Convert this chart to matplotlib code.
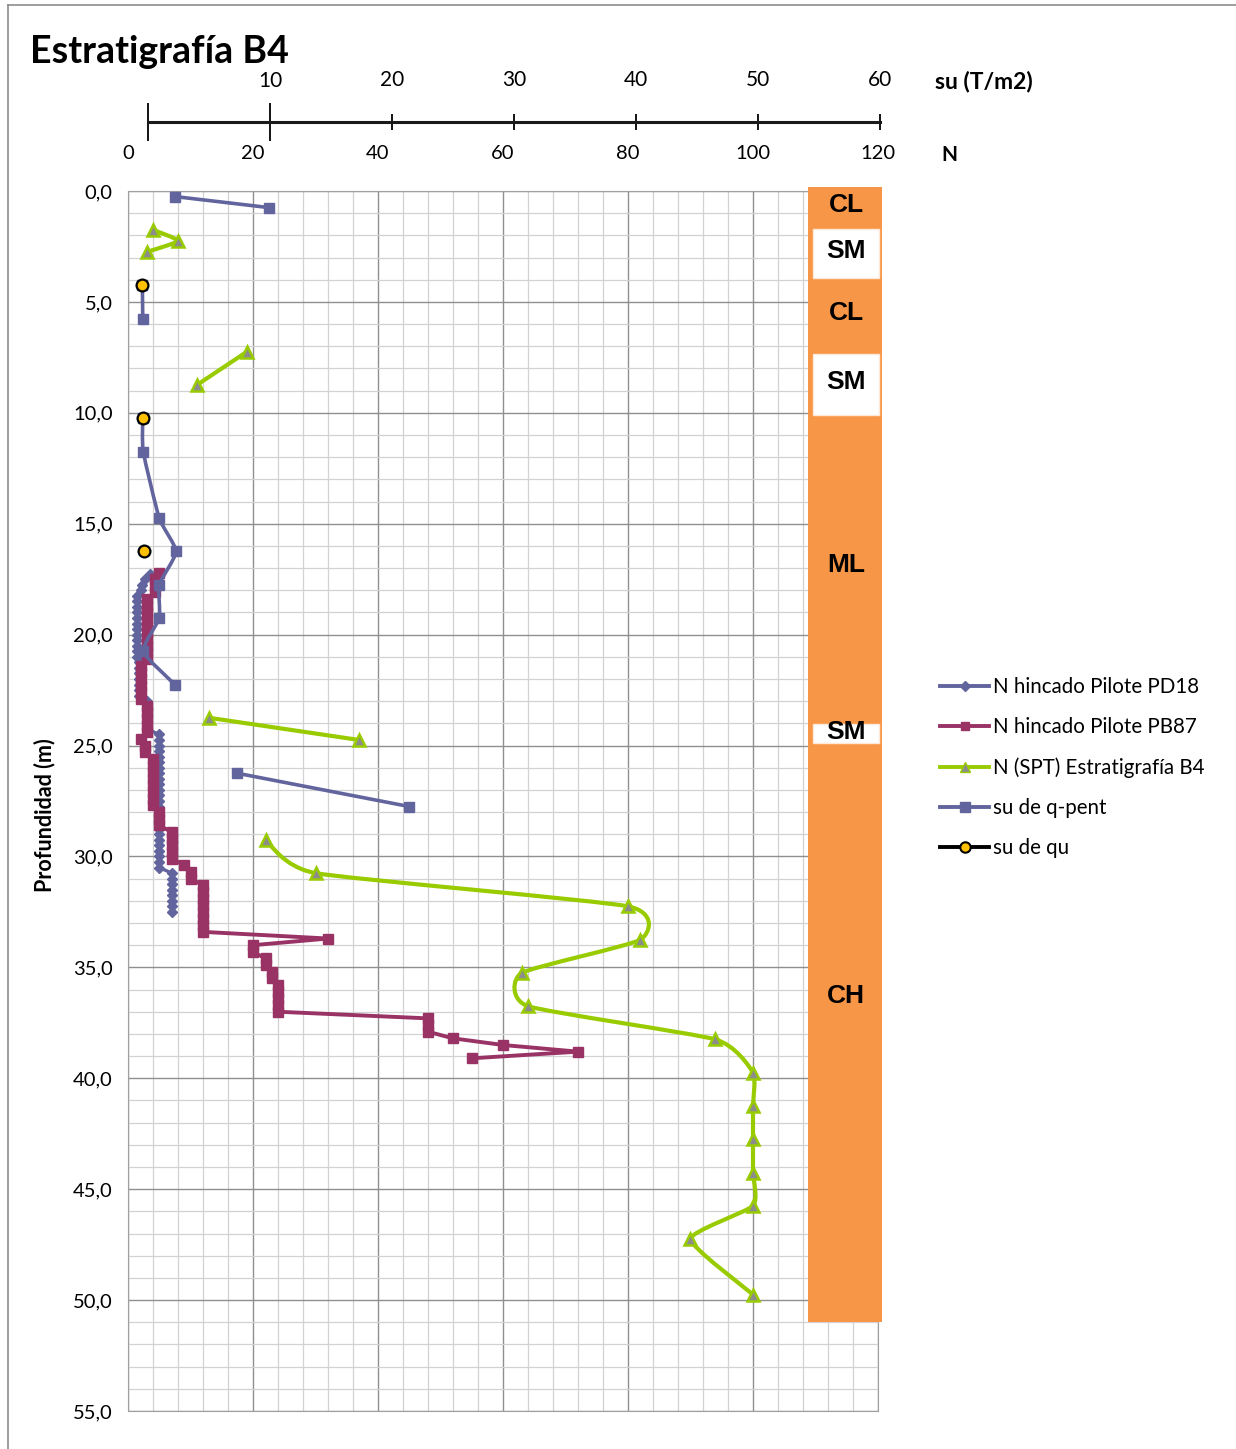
import matplotlib
matplotlib.use("Agg")
import matplotlib.pyplot as plt
import numpy as np
from matplotlib.path import Path
from matplotlib.patches import PathPatch, Rectangle
from matplotlib.lines import Line2D
from matplotlib.ticker import MultipleLocator, FuncFormatter

nan = np.nan

# N hincado Pilote PD18 (profundidad m / N)
pd18_prof = [17.25, 17.5, 17.75, 18.0, 18.25, 18.5, 18.75, 19.0, 19.25, 19.5, 19.75, 20.0,
             20.25, 20.5, 20.75, 21.0, 21.25, 21.5, 21.75, 22.0, 22.25, 22.5, 22.75,
             23.0, 23.25, 23.5, 23.75, 24.0, 24.25, 24.5, 24.75, 25.0, 25.25, 25.5, 25.75,
             26.0, 26.25, 26.5, 26.75, 27.0, 27.25, 27.5, 27.75, 28.0, 28.25, 28.5, 28.75,
             29.0, 29.25, 29.5, 29.75, 30.0, 30.25, 30.5, 30.75, 31.0, 31.25, 31.5, 31.75,
             32.0, 32.25, 32.5]
pd18_n = [3.5, 2.7, 2.3, 2.0, 1.5, 1.5, 1.5, 1.5, 1.5, 1.5, 1.5, 1.5,
          1.5, 1.5, 1.5, 1.5, 1.7, 1.7, 1.7, 1.7, 1.7, 1.7, 1.7,
          3.0, 3.0, 3.0, 3.0, 3.0, 3.0, 5.0, 5.0, 5.0, 5.0, 5.0, 5.0,
          5.0, 5.0, 5.0, 5.0, 5.0, 5.0, 5.0, 5.0, 5.0, 5.0, 5.0, 5.0,
          5.0, 5.0, 5.0, 5.0, 5.0, 5.0, 5.0, 7.0, 7.0, 7.0, 7.0, 7.0,
          7.0, 7.0, 7.0]

# N hincado Pilote PB87
pb87_prof = [17.2, 17.5, 17.8, 18.1, 18.4, 18.7, 19.0, 19.3, 19.6, 19.9, 20.2, 20.5, 20.8,
             21.1, 21.4, 21.7, 22.0, 22.3, 22.6, 22.9, 23.2, 23.5, 23.8, 24.1, 24.4, 24.7,
             25.0, 25.3, 25.6, 25.9, 26.2, 26.5, 26.8, 27.1, 27.4, 27.7, 28.0, 28.3, 28.6,
             28.9, 29.2, 29.5, 29.8, 30.1, 30.4, 30.7, 31.0, 31.3, 31.6, 31.9, 32.2, 32.5,
             32.8, 33.1, 33.4, 33.7, 34.0, 34.3, 34.6, 34.9, 35.2, 35.5, 35.8, 36.1, 36.4,
             36.7, 37.0, 37.3, 37.6, 37.9, 38.2, 38.5, 38.8, 39.1]
pb87_n = [5.0, 4.3, 4.3, 4.3, 3.0, 3.0, 3.0, 3.0, 3.0, 3.0, 3.0, 3.0, 3.0,
          3.0, 2.0, 2.0, 2.0, 2.0, 2.0, 2.0, 3.0, 3.0, 3.0, 3.0, 3.0, 2.0,
          2.7, 2.7, 4.0, 4.0, 4.0, 4.0, 4.0, 4.0, 4.0, 4.0, 5.0, 5.0, 5.0,
          7.0, 7.0, 7.0, 7.0, 7.0, 9.0, 10.0, 10.0, 12.0, 12.0, 12.0, 12.0, 12.0,
          12.0, 12.0, 12.0, 32.0, 20.0, 20.0, 22.0, 22.0, 23.0, 23.0, 24.0, 24.0, 24.0,
          24.0, 24.0, 48.0, 48.0, 48.0, 52.0, 60.0, 72.0, 55.0]

# N (SPT) Estratigrafia B4
spt_prof = [1.75, 2.25, 2.75, nan, 7.25, 8.75, nan, 23.75, 24.75, nan,
            29.25, 30.75, 32.25, 33.75, 35.25, 36.75, 38.25, 39.75, 41.25, 42.75,
            44.25, 45.75, 47.25, 49.75]
spt_n = [4.0, 8.0, 3.0, nan, 19.0, 11.0, nan, 13.0, 37.0, nan,
         22.0, 30.0, 80.0, 82.0, 63.0, 64.0, 94.0, 100.0, 100.0, 100.0,
         100.0, 100.0, 90.0, 100.0]

# su de q-pent (T/m2)
qpent_prof = [0.25, 0.75, nan, 4.25, 5.75, nan, 10.25, 11.75, 14.75, 16.25, 17.75,
              19.25, 20.75, 22.25, nan, 26.25, 27.75]
qpent_su = [3.75, 11.3, nan, 1.15, 1.18, nan, 1.18, 1.22, 2.5, 3.85, 2.5,
            2.5, 1.22, 3.75, nan, 8.75, 22.5]

# su de qu (T/m2)
qu_prof = [4.25, 10.25, 16.25]
qu_su = [1.15, 1.18, 1.28]

# columna estratigrafica
estratos = ["CL", "SM", "CL", "SM", "ML", "SM", "CH"]
estratos_prof = [0.63, 2.7, 5.5, 8.6, 16.86, 24.4, 36.3]
arenas = [(1.7, 3.9), (7.35, 10.1), (24.05, 24.9)]

c_pd18 = "#62649e"
c_pb87 = "#993366"
c_spt = "#99cc00"
c_qpent = "#62649e"

W, H = 1236, 1449
fig = plt.figure(figsize=(W / 100, H / 100), dpi=100)
plt.rcParams["font.family"] = ["Lato", "DejaVu Sans"]


def curva_suave(ax, xs, ys, color, lw, t=0.09, z=2):
    # linea suavizada tipo Excel (bezier por tramos)
    xs = np.asarray(xs, float)
    ys = np.asarray(ys, float)
    for idx in np.split(np.arange(len(xs)), np.where(np.isnan(xs))[0]):
        idx = idx[~np.isnan(xs[idx])]
        if len(idx) < 2:
            continue
        p = np.column_stack([xs[idx], ys[idx]])
        verts = [p[0]]
        codes = [Path.MOVETO]
        for i in range(len(p) - 1):
            p0 = p[max(i - 1, 0)]
            p1 = p[i]
            p2 = p[i + 1]
            p3 = p[min(i + 2, len(p) - 1)]
            verts += [p1 + (p2 - p0) * t, p2 - (p3 - p1) * t, p2]
            codes += [Path.CURVE4] * 3
        ax.add_patch(PathPatch(Path(verts, codes), fill=False, edgecolor=color, lw=lw,
                               capstyle="round", joinstyle="round", zorder=z))


ax = fig.add_axes([128 / W, 1 - 1411 / H, 750 / W, 1220 / H])
ax.set_xlim(0, 120)
ax.set_ylim(55, 0)

# series su (eje secundario, 0-60)
ax2 = ax.twiny()
ax2.set_xlim(0, 60)
ax2.set_axis_off()

ax.xaxis.tick_top()
ax.set_xticks(range(0, 121, 20))
ax.xaxis.set_minor_locator(MultipleLocator(4))
ax.yaxis.set_major_locator(MultipleLocator(5))
ax.yaxis.set_minor_locator(MultipleLocator(1))
ax.yaxis.set_major_formatter(FuncFormatter(lambda v, p: f"{v:.1f}".replace(".", ",")))
ax.tick_params(which="both", length=0, labelsize=14.5)
ax.tick_params(axis="x", top=True, bottom=False, labeltop=True, labelbottom=False, pad=21)
ax.tick_params(axis="y", pad=11)
ax.set_axisbelow(True)
ax.grid(which="major", color="#8f8f8f", lw=1)
ax.grid(which="minor", color="#d2d2d2", lw=0.9)
for s in ax.spines.values():
    s.set_color("#a0a0a0")

# series N
ax.plot(pd18_n, pd18_prof, color=c_pd18, lw=2.4, marker="D", ms=5.5, zorder=2)
ax.plot(pb87_n, pb87_prof, color=c_pb87, lw=2.8, marker="s", ms=7, zorder=2.1)
curva_suave(ax, spt_n, spt_prof, c_spt, 3.0, z=2.2)
ax.plot(spt_n, spt_prof, ls="none", marker="^", ms=8, mfc="#8c8c8c", mec=c_spt, mew=1.8, zorder=2.3)

curva_suave(ax2, qpent_su, qpent_prof, c_qpent, 2.6)
ax2.plot(qpent_su, qpent_prof, ls="none", marker="s", ms=7.5, color=c_qpent, zorder=2.1)
ax2.plot(qu_su, qu_prof, ls="none", marker="o", ms=8.5, mfc="#ffc000", mec="black", mew=1.6, zorder=2.2)

# columna estratigrafica
ax.add_patch(Rectangle((108.8, -0.18), 11.8, 51.18, facecolor="#f79646", edgecolor="none",
                       clip_on=False, zorder=2.6))
for a, b in arenas:
    ax.add_patch(Rectangle((109.6, a), 10.6, b - a, facecolor="white", edgecolor="#fde9d9",
                           lw=1, clip_on=False, zorder=2.7))
for nombre, z in zip(estratos, estratos_prof):
    ax.text(114.9, z, nombre, ha="center", va="center", fontsize=19, fontweight="bold",
            family=["Liberation Sans Narrow", "Liberation Sans"], zorder=3, clip_on=False)

# escala su dibujada arriba
ax_su = fig.add_axes([148 / W, 1 - 122 / H, 732 / W, 0.0001])
ax_su.patch.set_visible(False)
ax_su.set_xlim(0, 60)
for s in ["left", "right", "bottom"]:
    ax_su.spines[s].set_visible(False)
ax_su.spines["top"].set_linewidth(2.2)
ax_su.spines["top"].set_color("#1a1a1a")
ax_su.set_yticks([])
ax_su.xaxis.set_ticks_position("top")
ax_su.set_xticks([0, 10])
ax_su.set_xticklabels(["", "10"])
ax_su.set_xticks([20, 30, 40, 50, 60], minor=True)
ax_su.set_xticklabels(["20", "30", "40", "50", "60"], minor=True)
ax_su.tick_params(which="major", direction="inout", length=27, width=1.3, pad=9, labelsize=15)
ax_su.tick_params(which="minor", direction="inout", length=12, width=1.3, pad=17, labelsize=15)

fig.text(935 / W, 1 - 82 / H, "su (T/m2)", fontsize=16.5, fontweight="bold", va="center")
fig.text(941 / W, 1 - 155 / H, "N", fontsize=15, fontweight="bold", va="center")
fig.text(30 / W, 1 - 52 / H, "Estratigrafía B4", fontsize=27, fontweight="bold", va="center")
fig.text(45 / W, 1 - 815 / H, "Profundidad (m)", fontsize=15.5, fontweight="bold",
         rotation=90, ha="center", va="center")

# borde
fig.add_artist(Line2D([8 / W, 1], [1 - 5 / H, 1 - 5 / H], transform=fig.transFigure, color="#8c8c8c", lw=1.2))
fig.add_artist(Line2D([8 / W, 8 / W], [0, 1 - 5 / H], transform=fig.transFigure, color="#8c8c8c", lw=1.2))

handles = [
    Line2D([], [], color=c_pd18, lw=2.8, marker="D", ms=5),
    Line2D([], [], color=c_pb87, lw=2.8, marker="s", ms=6),
    Line2D([], [], color=c_spt, lw=2.8, marker="^", ms=7, mfc="#8c8c8c", mec=c_spt),
    Line2D([], [], color=c_qpent, lw=2.8, marker="s", ms=6.5),
    Line2D([], [], color="black", lw=2.8, marker="o", ms=7.5, mfc="#ffc000", mec="black", mew=1.5),
]
etiquetas = ["N hincado Pilote PD18", "N hincado Pilote PB87", "N (SPT) Estratigrafía B4",
             "su de q-pent", "su de qu"]
fig.legend(handles, etiquetas, loc="upper left", bbox_to_anchor=(940 / W, 1 - 677 / H),
           frameon=False, fontsize=14.8, handlelength=2.4, handletextpad=0.2,
           labelspacing=0.98, borderpad=0, borderaxespad=0)

fig.savefig("out.png", dpi=100)
